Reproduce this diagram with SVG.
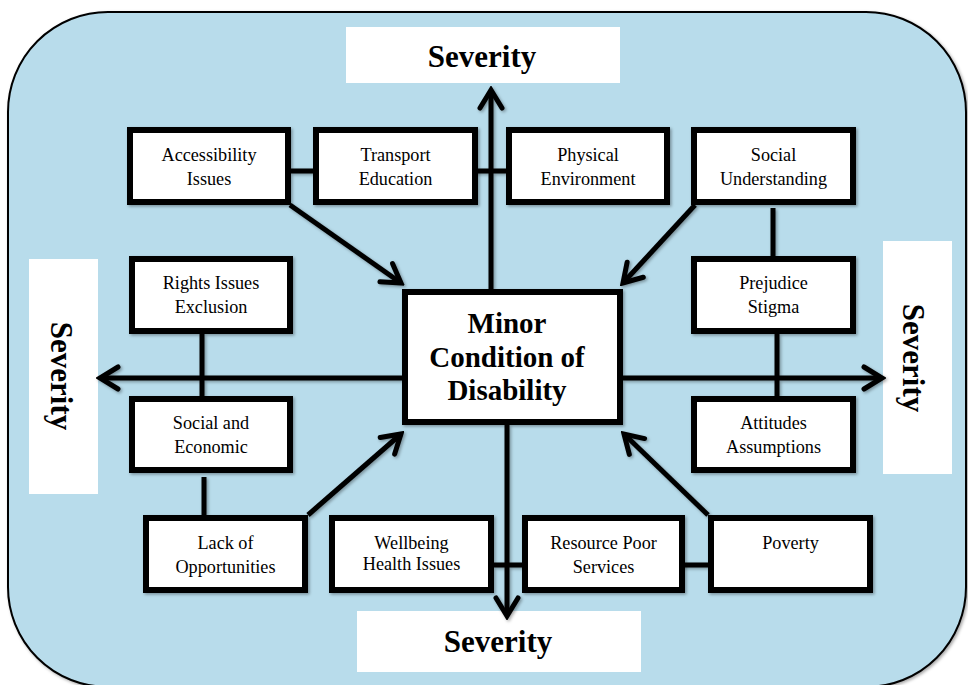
<svg xmlns="http://www.w3.org/2000/svg" width="968" height="685" viewBox="0 0 968 685">
<defs>
<filter id="sh" x="-10%" y="-10%" width="120%" height="120%">
<feDropShadow dx="1.5" dy="1.5" stdDeviation="1.5" flood-color="#000" flood-opacity="0.35"/>
</filter>
<marker id="ah" viewBox="-2 -14 26 28" refX="20" refY="0" markerWidth="26" markerHeight="28" markerUnits="userSpaceOnUse" orient="auto">
<path d="M2,-11 L20,0 L2,11" fill="none" stroke="#000" stroke-width="5" stroke-linecap="round" stroke-linejoin="miter"/>
</marker>
</defs>
<style>
.bg{fill:#b8dceb;stroke:#000;stroke-width:2}
.box{fill:#fff;stroke:#000;stroke-width:6}
.sev{fill:#fff}
.t{font-family:"Liberation Serif","Times New Roman",serif;font-size:18.2px;text-anchor:middle;fill:#000}
.st{font-family:"Liberation Serif","Times New Roman",serif;font-size:31px;font-weight:bold;text-anchor:middle;fill:#000}
.ct{font-family:"Liberation Serif","Times New Roman",serif;font-size:29px;font-weight:bold;text-anchor:middle;fill:#000}
.ln{stroke:#000;stroke-width:5;fill:none}
.ar{stroke:#000;stroke-width:5;fill:none;marker-end:url(#ah)}
</style>
<rect class="bg" x="8" y="12" width="958" height="675" rx="100" ry="100" filter="url(#sh)"/>

<g id="severity-top"><rect class="sev" x="346" y="27" width="274" height="56"/><text class="st" x="482" y="67">Severity</text></g>
<g id="severity-bottom"><rect class="sev" x="357" y="611" width="284" height="61"/><text class="st" x="498" y="652">Severity</text></g>
<g id="severity-left"><rect class="sev" x="29" y="259" width="69" height="235"/><text class="st" transform="translate(51,376) rotate(90)">Severity</text></g>
<g id="severity-right"><rect class="sev" x="883" y="241" width="69" height="233"/><text class="st" transform="translate(903,358) rotate(90)">Severity</text></g>

<g id="connectors" filter="url(#sh)">
<line class="ln" x1="291" y1="171" x2="506" y2="171"/>
<line class="ar" x1="491" y1="289" x2="491" y2="90"/>
<line class="ln" x1="494" y1="565" x2="708" y2="565"/>
<line class="ar" x1="507" y1="425" x2="507" y2="616"/>
<line class="ar" x1="402" y1="378" x2="100" y2="378"/>
<line class="ar" x1="623" y1="378" x2="882" y2="378"/>
<line class="ln" x1="202" y1="334" x2="202" y2="396"/>
<line class="ln" x1="204" y1="477" x2="204" y2="515"/>
<line class="ln" x1="773" y1="208" x2="773" y2="256"/>
<line class="ln" x1="777" y1="334" x2="777" y2="396"/>
<line class="ar" x1="290" y1="205" x2="401" y2="283"/>
<line class="ar" x1="695" y1="205" x2="623" y2="283"/>
<line class="ar" x1="308" y1="515" x2="401" y2="434"/>
<line class="ar" x1="708" y1="515" x2="624" y2="434"/>
</g>

<g id="center"><rect class="box" x="405" y="292" width="215" height="130" filter="url(#sh)"/>
<text class="ct" x="507" y="333">Minor</text><text class="ct" x="507" y="367">Condition of</text><text class="ct" x="507" y="400">Disability</text></g>

<g id="accessibility"><rect class="box" x="130" y="130" width="158" height="72" filter="url(#sh)"/><text class="t" x="209" y="161">Accessibility</text><text class="t" x="209" y="185">Issues</text></g>
<g id="transport"><rect class="box" x="316" y="130" width="159" height="72" filter="url(#sh)"/><text class="t" x="395.5" y="161">Transport</text><text class="t" x="395.5" y="185">Education</text></g>
<g id="physical"><rect class="box" x="509" y="130" width="158" height="72" filter="url(#sh)"/><text class="t" x="588" y="161">Physical</text><text class="t" x="588" y="185">Environment</text></g>
<g id="social-understanding"><rect class="box" x="694" y="130" width="159" height="72" filter="url(#sh)"/><text class="t" x="773.5" y="161">Social</text><text class="t" x="773.5" y="185">Understanding</text></g>
<g id="rights"><rect class="box" x="132" y="259" width="158" height="72" filter="url(#sh)"/><text class="t" x="211" y="289">Rights Issues</text><text class="t" x="211" y="313">Exclusion</text></g>
<g id="prejudice"><rect class="box" x="694" y="259" width="159" height="72" filter="url(#sh)"/><text class="t" x="773.5" y="289">Prejudice</text><text class="t" x="773.5" y="313">Stigma</text></g>
<g id="social-economic"><rect class="box" x="132" y="399" width="158" height="71" filter="url(#sh)"/><text class="t" x="211" y="429">Social and</text><text class="t" x="211" y="453">Economic</text></g>
<g id="attitudes"><rect class="box" x="694" y="399" width="159" height="71" filter="url(#sh)"/><text class="t" x="773.5" y="429">Attitudes</text><text class="t" x="773.5" y="453">Assumptions</text></g>
<g id="lack"><rect class="box" x="146" y="518" width="159" height="72" filter="url(#sh)"/><text class="t" x="225.5" y="549">Lack of</text><text class="t" x="225.5" y="573">Opportunities</text></g>
<g id="wellbeing"><rect class="box" x="332" y="518" width="159" height="72" filter="url(#sh)"/><text class="t" x="411.5" y="549">Wellbeing</text><text class="t" x="411.5" y="570">Health Issues</text></g>
<g id="resource"><rect class="box" x="525" y="518" width="157" height="72" filter="url(#sh)"/><text class="t" x="603.5" y="549">Resource Poor</text><text class="t" x="603.5" y="573">Services</text></g>
<g id="poverty"><rect class="box" x="711" y="518" width="159" height="72" filter="url(#sh)"/><text class="t" x="790.5" y="549">Poverty</text></g>
</svg>
